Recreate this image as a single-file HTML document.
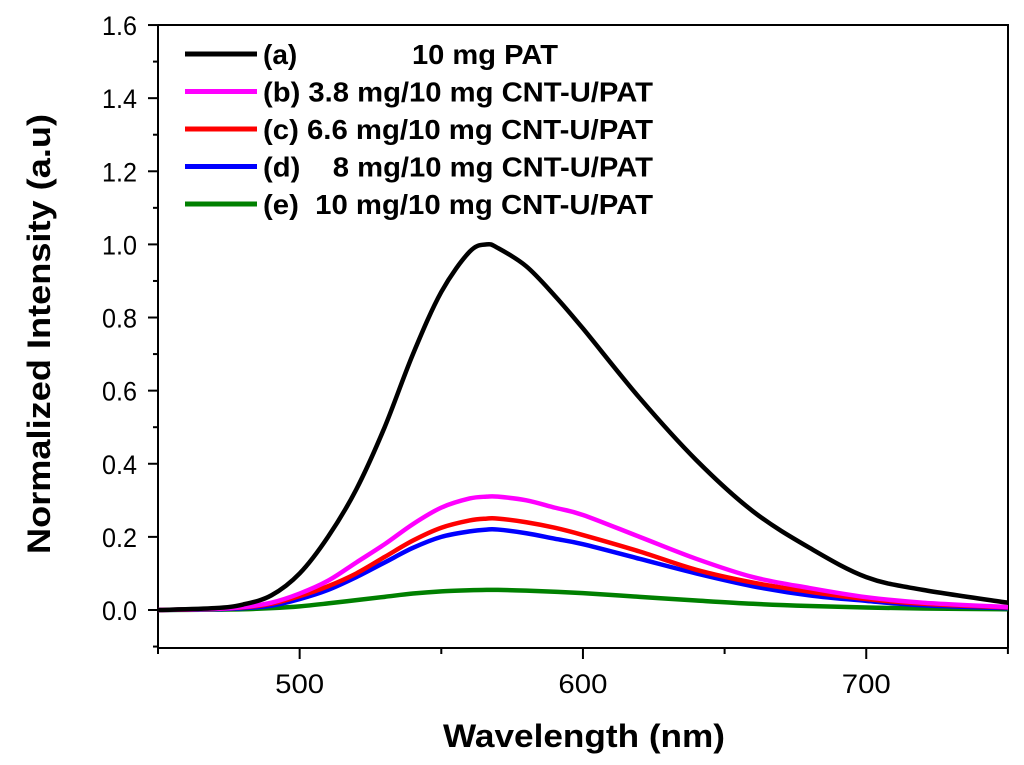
<!DOCTYPE html>
<html><head><meta charset="utf-8"><style>
body{margin:0;background:#fff}
svg{display:block;font-family:"Liberation Sans",Arial,sans-serif}
</style></head><body>
<svg id="chart" width="1024" height="765" viewBox="0 0 1024 765">
<g id="axes"></g><g id="series"></g><g id="legend"></g>
<text x="584" y="747" text-anchor="middle" font-size="32" font-weight="bold" textLength="282" lengthAdjust="spacingAndGlyphs">Wavelength (nm)</text>
<text transform="translate(50,334) rotate(-90)" text-anchor="middle" font-size="32" font-weight="bold" textLength="440" lengthAdjust="spacingAndGlyphs">Normalized Intensity (a.u)</text>
</svg>
<script>
const wavelengths=[450,470,480,490,500,510,520,530,540,550,560,566,570,580,590,600,620,640,660,680,700,720,750];
const seriesA=[0,0.005,0.015,0.04,0.10,0.2,0.33,0.5,0.7,0.87,0.98,1.0,0.99,0.94,0.86,0.77,0.58,0.41,0.27,0.17,0.09,0.055,0.02];
const seriesB=[0,0.003,0.008,0.02,0.045,0.08,0.13,0.18,0.235,0.28,0.305,0.31,0.31,0.3,0.28,0.26,0.2,0.14,0.09,0.06,0.035,0.02,0.008];
const seriesC=[0,0.003,0.007,0.017,0.038,0.065,0.1,0.145,0.19,0.225,0.245,0.25,0.25,0.24,0.225,0.205,0.16,0.11,0.075,0.05,0.03,0.017,0.007];
const seriesD=[0,0.002,0.005,0.012,0.03,0.055,0.09,0.13,0.17,0.2,0.215,0.22,0.22,0.21,0.195,0.18,0.14,0.1,0.065,0.04,0.025,0.013,0.005];
const seriesE=[0,0.001,0.002,0.005,0.01,0.018,0.027,0.036,0.045,0.051,0.054,0.055,0.055,0.053,0.05,0.046,0.036,0.026,0.017,0.011,0.007,0.004,0.002];
const legendLabels=["(a)","(b) 3.8 mg/10 mg CNT-U/PAT","(c) 6.6 mg/10 mg CNT-U/PAT","(d)    8 mg/10 mg CNT-U/PAT","(e)  10 mg/10 mg CNT-U/PAT"];
const yTicks=[0,0.2,0.4,0.6,0.8,1.0,1.2,1.4,1.6];
const xTicks=[500,600,700];
const NS="http://www.w3.org/2000/svg";
const L=158,R=1008,T=25,B=648;
const xs=v=>158+(v-450)*2.833;
const ys=v=>610-v*365.6;
function mk(t,a,p){const e=document.createElementNS(NS,t);for(const k in a)e.setAttribute(k,a[k]);p.appendChild(e);return e;}
const ax=document.getElementById('axes');
const frame=mk('path',{d:`M${L},${T}H${R}V${B}M${L},${T}V${B}H${R}`,stroke:'#000','stroke-width':2,fill:'none'},ax);


yTicks.forEach(v=>{
 const y=ys(v);
 const t=mk('line',{x1:L-10,x2:L,y1:y,y2:y,stroke:'#000','stroke-width':2},ax);
 
 
 if(v<1.6){const m=mk('line',{x1:L-5,x2:L,y1:y-182.8,y2:y-182.8,stroke:'#000','stroke-width':2},ax);
 
 }
 const tx=mk('text',{x:137,y:y+10,'text-anchor':'end','font-size':27,textLength:35,lengthAdjust:'spacingAndGlyphs'},ax);tx.textContent=v.toFixed(1);
 
 
});
const m0=mk('line',{x1:L-5,x2:L,y1:ys(-0.1),y2:ys(-0.1),stroke:'#000','stroke-width':2},ax);


[450,550,650,750].forEach(v=>{const m=mk('line',{x1:xs(v),x2:xs(v),y1:B,y2:B+6,stroke:'#000','stroke-width':2},ax);
 
 });
xTicks.forEach(v=>{
 const t=mk('line',{x1:xs(v),x2:xs(v),y1:B,y2:B+11,stroke:'#000','stroke-width':2},ax);
 
 
 const tx=mk('text',{x:xs(v),y:693,'text-anchor':'middle','font-size':27,textLength:49,lengthAdjust:'spacingAndGlyphs'},ax);tx.textContent=v;
 
 
});
function path(vals){
 const p=wavelengths.map((w,i)=>[xs(w),ys(vals[i])]);
 let d=`M${p[0][0]},${p[0][1]}`;
 for(let i=0;i<p.length-1;i++){
  const p0=p[i-1]||p[i],p1=p[i],p2=p[i+1],p3=p[i+2]||p2;
  d+=`C${p1[0]+(p2[0]-p0[0])/6},${p1[1]+(p2[1]-p0[1])/6} ${p2[0]-(p3[0]-p1[0])/6},${p2[1]-(p3[1]-p1[1])/6} ${p2[0]},${p2[1]}`;
 }
 return d;
}
const sg=document.getElementById('series');
const allSeries=[seriesA,seriesB,seriesC,seriesD,seriesE];
const colors=['#000','#ff00ff','#ff0000','#0000ff','#008000'];
const names=['series-a','series-b','series-c','series-d','series-e'];
for(let i=4;i>=0;i--){
 const e=mk('path',{d:path(allSeries[i]),stroke:colors[i],'stroke-width':4.5,fill:'none'},sg);
 
 
}
const lg=document.getElementById('legend');
legendLabels.forEach((s,i)=>{
 const y=54+i*37.5;
 const g=mk('g',{},lg);
 
 
 mk('line',{x1:185,x2:257,y1:y,y2:y,stroke:colors[i],'stroke-width':5},g);
 const attrs={x:263,y:y+10,'font-size':28,'font-weight':'bold'};
 if(i>0){attrs.textLength=390;attrs.lengthAdjust='spacingAndGlyphs';}
 const t=mk('text',attrs,g);
 t.setAttribute('style','white-space:pre');
 t.textContent=s;
 if(i===0){
  const t2=mk('text',{x:412,y:y+10,'font-size':28,'font-weight':'bold',textLength:146,lengthAdjust:'spacingAndGlyphs'},g);
  t2.textContent='10 mg PAT';
 }
});
</script>
</body></html>
